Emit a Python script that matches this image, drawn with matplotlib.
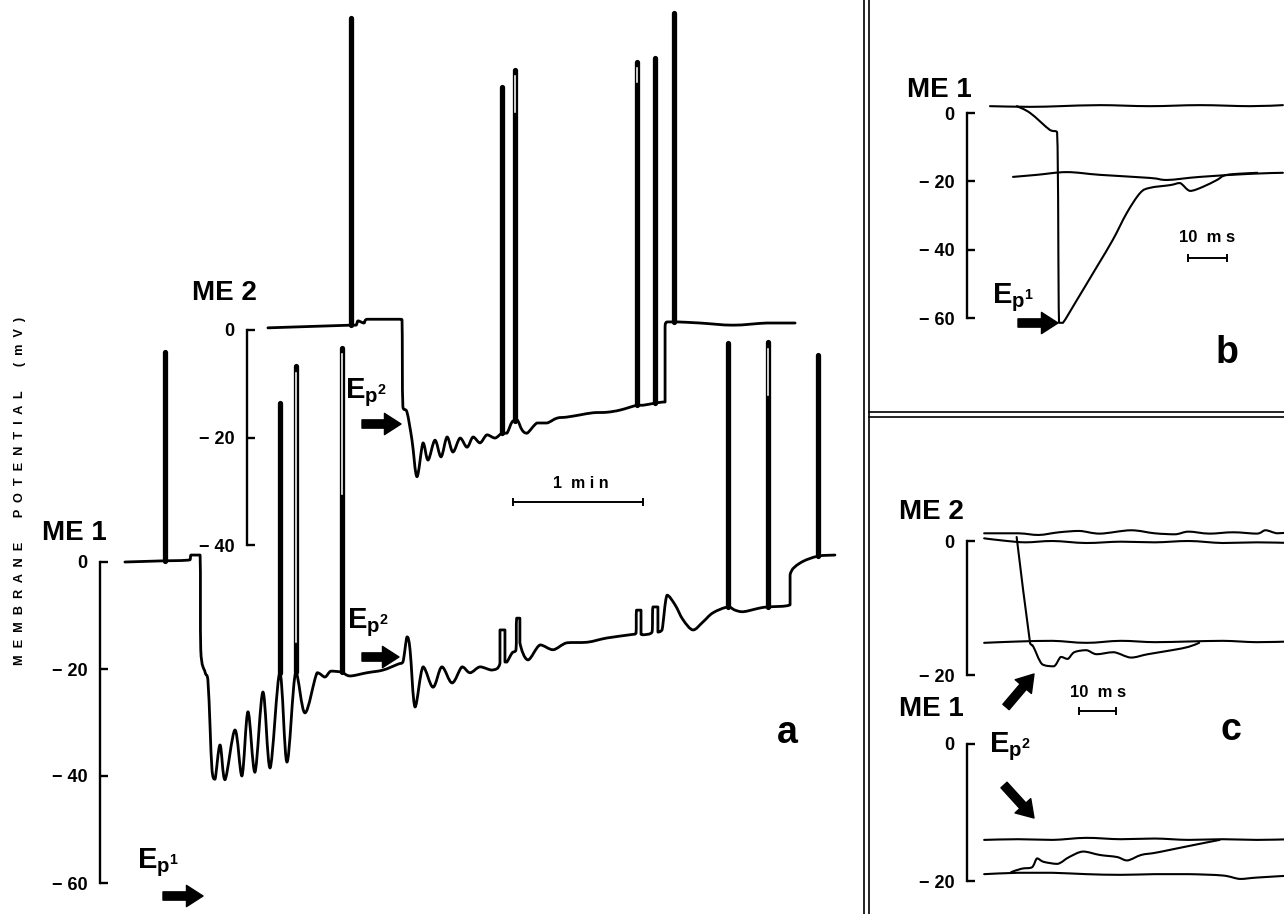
import numpy as np
import matplotlib.pyplot as plt
from matplotlib.patches import FancyArrowPatch, PathPatch
from matplotlib.path import Path
from matplotlib.lines import Line2D

plt.rcParams.update({
    'font.family': ['Liberation Sans', 'DejaVu Sans'],
    'font.weight': 'bold',
    'mathtext.fontset': 'custom',
    'mathtext.rm': 'Liberation Sans:bold',
    'mathtext.bf': 'Liberation Sans:bold',
    'mathtext.it': 'Liberation Sans:bold',
})

# --- panel a, ME1 (time in s, potential in mV)
a1_t = [11.5, 27.7, 41.5, 42.0, 46.2, 46.5, 48.5, 49.8, 50.8, 51.7, 53.1, 55.4, 57.7,
        62.3, 65.5, 68.3, 71.5, 75.2, 78.5, 83.0, 86.3, 90.3, 94.6, 100.2, 103.8,
        106.6, 111.5, 115.4, 123.2, 130.6, 137.5, 139.8, 141.7, 143.1, 145.4, 149.1,
        153.7, 157.8, 162.5, 167.1, 170.8, 175.4, 180.9, 184.6, 184.6, 186.9, 186.9,
        187.8, 190.2, 192.0, 192.3, 193.8, 193.8, 197.5, 203.1, 209.1, 215.5, 224.8,
        234.0, 244.6, 247.4, 247.6, 249.7, 249.7, 251.1, 254.8, 255.2, 257.5, 257.5,
        259.4, 261.7, 265.4, 269.1, 273.7, 278.3, 282.9, 289.8, 293.1, 296.8, 304.6,
        308.3, 318.5, 318.5, 323.1, 331.4, 339.2]
a1_mv = [0.0, 0.2, 0.4, 1.3, 1.3, -16.4, -20.6, -22.1, -30.8, -38.9, -40.6, -34.2, -40.7,
         -31.4, -40.0, -28.0, -39.3, -24.3, -38.5, -20.7, -37.4, -20.6, -28.2, -20.7, -21.5,
         -20.4, -20.6, -21.3, -20.7, -20.2, -19.1, -18.7, -14.0, -16.4, -27.1, -19.6,
         -23.4, -19.6, -22.6, -19.6, -20.7, -19.6, -20.2, -18.9, -12.7, -12.7, -18.7,
         -18.7, -17.0, -16.4, -10.5, -10.5, -15.1, -18.3, -15.5, -16.4, -15.1, -15.0,
         -14.2, -13.6, -13.3, -9.0, -9.0, -13.5, -13.6, -13.1, -8.4, -8.4, -13.1,
         -12.7, -6.2, -8.0, -10.8, -12.7, -11.2, -9.5, -8.4, -9.0, -9.3, -8.6,
         -8.4, -8.0, -2.4, -0.2, 1.1, 1.3]
a1_spike_t = [30.0, 83.0, 90.3, 111.5, 289.8, 308.3, 331.4]
a1_spike_peak = [39.3, 29.7, 36.6, 40.0, 40.9, 41.1, 38.7]

# --- panel a, ME2
a2_t = [77.5, 115.8, 118.2, 119.1, 121.8, 123.2, 138.5, 139.4, 139.8, 141.7, 144.0,
        146.3, 149.1, 151.4, 154.6, 157.4, 160.2, 162.9, 166.2, 169.4, 172.2, 175.4,
        178.6, 182.3, 185.5, 187.8, 190.2, 192.5, 194.8, 197.1, 201.7, 206.3, 210.9,
        215.5, 221.5, 227.5, 234.0, 240.0, 247.8, 250.6, 256.2, 259.8, 260.8, 260.8,
        261.7, 264.9, 266.8, 276.9, 292.2, 307.8, 320.8]
a2_mv = [0.4, 0.9, 0.9, 1.7, 1.3, 2.0, 2.0, 1.9, -14.3, -15.3, -20.5,
         -27.3, -21.0, -24.2, -20.5, -23.6, -19.9, -22.7, -20.1, -21.8, -19.9, -21.0,
         -19.5, -20.1, -19.2, -19.2, -17.1, -16.7, -18.6, -19.2, -17.3, -17.3, -16.4,
         -16.2, -15.8, -15.4, -15.3, -14.9, -14.0, -14.0, -13.6, -13.4, -13.4, 0.6,
         1.5, 1.5, 1.5, 1.3, 0.9, 1.3, 1.3]
a2_spike_t = [115.8, 185.5, 191.5, 247.8, 256.2, 264.9]
a2_spike_peak = [58.0, 45.2, 48.4, 49.9, 50.6, 59.0]

# --- panel b, ME1 (time in ms)
b_top_t = [5.9, 16.2, 23.8, 34.1, 46.9, 59.7, 72.6, 81.0]
b_top_mv = [2.0, 1.8, 2.0, 2.3, 2.0, 2.3, 2.0, 2.3]
b_resp_t = [12.8, 16.2, 21.3, 23.1, 23.6, 24.6, 28.2, 33.3, 37.4, 41.0, 44.4, 46.9,
            52.1, 54.6, 57.2, 60.5, 64.1, 66.7, 74.4]
b_resp_mv = [2.0, 0.0, -5.0, -5.6, -61.4, -61.4, -54.7, -45.0, -37.1, -29.2, -23.4, -21.9,
             -21.1, -20.5, -22.8, -21.6, -19.6, -18.1, -17.5]
b_rest_t = [11.8, 17.9, 25.6, 34.1, 46.9, 51.3, 59.7, 72.6, 81.0]
b_rest_mv = [-18.7, -18.1, -17.3, -18.1, -19.0, -19.6, -18.7, -17.8, -17.5]

# --- panel c, ME2 (time in ms)
c2_top_t = [4.7, 14.0, 19.6, 25.2, 30.8, 36.4, 44.9, 51.4, 57.0, 60.7, 66.4, 72.9, 79.4,
            81.8, 85.0, 88.8]
c2_top_mv = [1.15, 1.15, 0.9, 1.3, 1.5, 1.1, 1.6, 1.15, 1.0, 1.4, 1.1, 1.3, 1.1,
             1.6, 1.15, 1.3]
c2_low_t = [4.7, 9.3, 15.9, 23.4, 32.7, 42.1, 51.4, 60.7, 70.1, 79.4, 88.8]
c2_low_mv = [0.4, 0.1, -0.2, 0.0, -0.3, -0.1, -0.2, 0.0, -0.3, -0.2, -0.3]
c2_resp_t = [13.6, 17.3, 18.2, 20.6, 23.8, 25.7, 27.6, 29.4, 32.7, 35.5, 40.2, 44.9,
             49.5, 56.1, 60.7, 63.6]
c2_resp_mv = [0.6, -15.3, -15.8, -18.4, -18.7, -17.3, -17.6, -16.6, -16.3, -16.9, -16.6,
              -17.4, -16.9, -16.3, -15.8, -15.2]
c2_rest_t = [4.7, 14.0, 23.4, 32.7, 42.1, 51.4, 60.7, 70.1, 79.4, 88.8]
c2_rest_mv = [-15.2, -15.0, -14.9, -15.2, -14.9, -15.1, -15.0, -14.9, -15.1, -15.0]

# --- panel c, ME1
c1_top_t = [4.7, 14.0, 23.4, 32.7, 42.1, 51.4, 60.7, 70.1, 79.4, 88.8]
c1_top_mv = [-14.0, -13.9, -14.0, -13.7, -13.9, -13.8, -14.0, -13.9, -14.0, -13.9]
c1_low_t = [4.7, 14.0, 23.4, 32.7, 42.1, 51.4, 60.7, 70.1, 74.8, 79.4, 88.8]
c1_low_mv = [-19.0, -18.8, -18.8, -19.0, -19.1, -19.0, -19.0, -19.2, -19.7, -19.5, -19.2]
c1_resp_t = [12.1, 15.0, 17.8, 19.2, 21.0, 24.8, 28.0, 31.8, 36.4, 41.1, 43.9, 47.7,
             51.4, 56.1, 60.7, 65.4, 69.2]
c1_resp_mv = [-18.7, -18.2, -18.0, -16.7, -17.2, -17.5, -16.5, -15.7, -16.2, -16.5, -17.0,
              -16.2, -15.9, -15.4, -14.9, -14.4, -14.0]

yticks_a1 = [0, -20, -40, -60]
yticks_a2 = [0, -20, -40]
yticks_c = [0, -20]

W, H = 1284, 914
fig = plt.figure(figsize=(W / 100, H / 100), dpi=100)


def trace_axes(box, t_px, px_per_t, v_px, px_per_v, ticks):
    left, right, top, bottom = box
    ax = fig.add_axes([left / W, 1 - bottom / H, (right - left) / W, (bottom - top) / H])
    ax.set_xlim((left - t_px) / px_per_t, (right - t_px) / px_per_t)
    ax.set_ylim((v_px - bottom) / px_per_v, (v_px - top) / px_per_v)
    ax.patch.set_alpha(0)
    for s in ['top', 'right', 'bottom']:
        ax.spines[s].set_visible(False)
    ax.spines['left'].set_linewidth(1.7)
    ax.spines['left'].set_bounds(min(ticks), max(ticks))
    ax.set_xticks([])
    ax.set_yticks(ticks, ['0' if v == 0 else '\u2212 %d' % -v for v in ticks])
    ax.tick_params(axis='y', direction='in', length=6, width=1.7, labelsize=13, pad=9)
    return ax


def trace(ax, t, v, lw):
    # smooth pen-like curve through the read points, no overshoot past them
    p = np.column_stack([t, v]).astype(float)
    n = len(p)
    verts, codes = [p[0]], [Path.MOVETO]
    for i in range(n - 1):
        p0, p1, p2, p3 = p[max(i - 1, 0)], p[i], p[i + 1], p[min(i + 2, n - 1)]
        lo, hi = np.minimum(p1, p2), np.maximum(p1, p2)
        c1 = np.clip(p1 + (p2 - p0) / 6, lo, hi)
        c2 = np.clip(p2 - (p3 - p1) / 6, lo, hi)
        verts += [c1, c2, p2]
        codes += [Path.CURVE4] * 3
    ax.add_patch(PathPatch(Path(verts, codes), fill=False, lw=lw, ec='k',
                           joinstyle='round', capstyle='round'))


def spikes(ax, t, v, st, peak, hollow, lw):
    base = np.interp(st, t, v)
    for x, b, p, h in zip(st, base, peak, hollow):
        ax.plot([x, x], [b, p], color='k', lw=lw, solid_capstyle='round')
        if h > 0:
            ax.plot([x, x], [p - 1.2, p - h * (p - b)], color='w', lw=lw * 0.3)


def ftext(x, y, s, **kw):
    fig.text(x / W, 1 - y / H, s, **kw)


def farrow(x0, y0, x1, y1):
    fig.add_artist(FancyArrowPatch((x0 / W, 1 - y0 / H), (x1 / W, 1 - y1 / H),
                                   transform=fig.transFigure, color='k', shrinkA=0, shrinkB=0,
                                   arrowstyle='simple,head_length=0.7,head_width=0.9,tail_width=0.35',
                                   mutation_scale=17))


def scalebar(ax, x0, length, y):
    ax.plot([x0, x0 + length], [y, y], color='k', lw=1.4, clip_on=False)
    ax.plot([x0, x0 + length], [y, y], 'k|', ms=6, mew=1.4, clip_on=False)


px_s = 130 / 60.0
# --- panel a
ax1 = trace_axes((100, 845, 0, 914), 100, px_s, 562, 5.35, yticks_a1)
trace(ax1, a1_t, a1_mv, 2.0)
spikes(ax1, a1_t, a1_mv, a1_spike_t, a1_spike_peak, [0, 0, 0.9, 0.45, 0, 0.2, 0], 3.8)
scalebar(ax1, 190.6, 60, 11.2)

ax2 = trace_axes((247, 845, 0, 600), 100, px_s, 330, 5.375, yticks_a2)
trace(ax2, a2_t, a2_mv, 2.0)
spikes(ax2, a2_t, a2_mv, a2_spike_t, a2_spike_peak, [0, 0, 0.12, 0.06, 0, 0], 3.8)

# --- panel b
axb = trace_axes((967, 1284, 60, 405), 967, 3.9, 113, 3.417, yticks_a1)
for t, v in [(b_top_t, b_top_mv), (b_resp_t, b_resp_mv), (b_rest_t, b_rest_mv)]:
    trace(axb, t, v, 1.5)
scalebar(axb, 56.7, 10, -42.4)

# --- panel c
axc2 = trace_axes((967, 1284, 420, 700), 967, 3.65, 541, 6.7, yticks_c)
for t, v in [(c2_top_t, c2_top_mv), (c2_low_t, c2_low_mv), (c2_resp_t, c2_resp_mv),
             (c2_rest_t, c2_rest_mv)]:
    trace(axc2, t, v, 1.5)
scalebar(axc2, 30.7, 10, -25.3)

axc1 = trace_axes((967, 1284, 720, 914), 967, 3.65, 744, 6.85, yticks_c)
for t, v in [(c1_top_t, c1_top_mv), (c1_low_t, c1_low_mv), (c1_resp_t, c1_resp_mv)]:
    trace(axc1, t, v, 1.5)

# --- separators
for x in (864, 869):
    fig.add_artist(Line2D([x / W, x / W], [0, 1], color='k', lw=1.2))
for y in (412, 417):
    fig.add_artist(Line2D([869 / W, 1], [1 - y / H, 1 - y / H], color='k', lw=1.2))

# --- labels
ftext(20, 491, 'M  E  M  B  R  A  N  E       P  O  T  E  N  T  I  A  L       (  m  V  )',
      rotation=90, ha='center', va='center', fontsize=9.2)
ftext(42, 540, 'ME 1', fontsize=20)
ftext(192, 300, 'ME 2', fontsize=20)
ftext(907, 97, 'ME 1', fontsize=20)
ftext(899, 519, 'ME 2', fontsize=20)
ftext(899, 716, 'ME 1', fontsize=20)

ep1 = r'$\mathbf{E}_{\mathbf{p}^{\mathbf{1}}}$'
ep2 = r'$\mathbf{E}_{\mathbf{p}^{\mathbf{2}}}$'
ftext(137, 868, ep1, fontsize=21, va='baseline')
farrow(163, 896, 203, 896)
ftext(345, 398, ep2, fontsize=21, va='baseline')
farrow(362, 424, 401, 424)
ftext(347, 628, ep2, fontsize=21, va='baseline')
farrow(362, 657, 399, 657)
ftext(992, 303, ep1, fontsize=21, va='baseline')
farrow(1018, 323, 1058, 323)
ftext(989, 752, ep2, fontsize=21, va='baseline')
farrow(1006, 707, 1034, 674)
farrow(1004, 785, 1034, 818)

ftext(581, 488, '1  m i n', fontsize=11.5, ha='center', va='baseline')
ftext(1207, 242, '10  m s', fontsize=12, ha='center', va='baseline')
ftext(1098, 697, '10  m s', fontsize=12, ha='center', va='baseline')

ftext(787, 743, 'a', fontsize=27, ha='center', va='baseline')
ftext(1227, 363, 'b', fontsize=27, ha='center', va='baseline')
ftext(1231, 740, 'c', fontsize=27, ha='center', va='baseline')

fig.savefig('out.png', dpi=100)
